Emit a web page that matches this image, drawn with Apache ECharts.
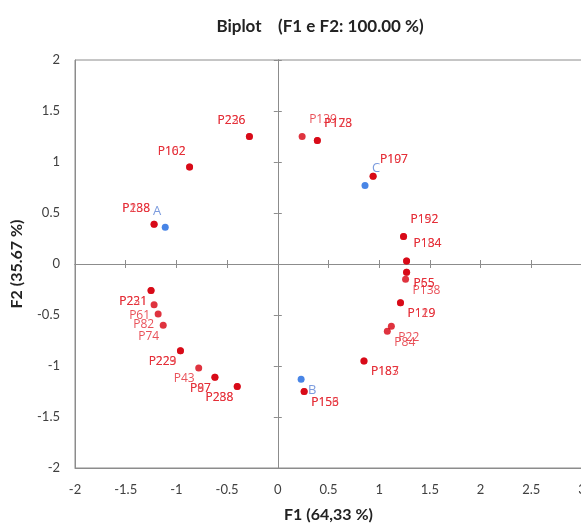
<!DOCTYPE html>
<html>
<head>
<meta charset="utf-8">
<script src="https://cdn.jsdelivr.net/npm/echarts@6/dist/echarts.min.js"></script>
<style>
  html, body { margin: 0; padding: 0; background: #fff; }
  #chart { width: 581px; height: 524px; }
</style>
</head>
<body>
<div id="chart"></div>
<script>
// observations (red)
var obsNames = ["P226", "P236", "P162", "P102", "P238", "P188",
  "P139", "P173", "P128", "P107", "P197", "P192", "P152", "P134", "P184",
  "P55", "P65", "P138", "P119", "P129", "P22", "P84", "P183", "P187",
  "P231", "P221", "P61", "P82", "P74", "P223", "P229", "P43", "P87", "P97",
  "P288", "P238b", "P156", "P153"];
var obsX = [-0.28, -0.28, -0.87, -0.87, -1.22, -1.22,
  0.24, 0.39, 0.39, 0.94, 0.94, 1.24, 1.24, 1.27, 1.27,
  1.27, 1.27, 1.26, 1.21, 1.21, 1.12, 1.08, 0.85, 0.85,
  -1.25, -1.25, -1.22, -1.18, -1.13, -0.96, -0.96, -0.78, -0.62, -0.62,
  -0.40, -0.40, 0.26, 0.26];
var obsY = [1.25, 1.25, 0.95, 0.95, 0.39, 0.39,
  1.25, 1.21, 1.21, 0.86, 0.86, 0.27, 0.27, 0.03, 0.03,
  -0.08, -0.08, -0.15, -0.38, -0.38, -0.61, -0.66, -0.95, -0.95,
  -0.26, -0.26, -0.40, -0.49, -0.60, -0.85, -0.85, -1.02, -1.11, -1.11,
  -1.20, -1.20, -1.25, -1.25];

// variables (blue)
var varNames = ["A", "B", "C"];
var varX = [-1.11, 0.23, 0.86];
var varY = [0.36, -1.13, 0.77];

var xTicks = { min: -2, max: 3, interval: 0.5 };
var yTicks = { min: -2, max: 2, interval: 0.5 };

// label placement around each point: tl, tr, bl, br
var side = {
  P226: "tl", P236: "tl", P162: "tl", P102: "tl", P238: "tl", P188: "tl",
  P139: "tr", P173: "tr", P128: "tr", P107: "tr", P197: "tr", P192: "tr",
  P152: "tr", P134: "tr", P184: "tr",
  A: "tl", C: "tr", B: "br"
};
var half = 3.5; // half symbol size, label position is from symbol's top-left
var sideStyle = {
  tl: { align: "right", position: [half - 4, half - 16] },
  tr: { align: "left", position: [half + 7, half - 17] },
  br: { align: "left", position: [half + 7, half + 11] },
  bl: { align: "right", position: [half - 4, half + 11] }
};
var leftSide = ["P231", "P221", "P61", "P82", "P74", "P223", "P229", "P43", "P87", "P97", "P288", "P238b"];

function labelFor(name) {
  var s = side[name] || (leftSide.indexOf(name) >= 0 ? "bl" : "br");
  return sideStyle[s];
}

function build(names, xs, ys) {
  return names.map(function (n, i) {
    return {
      name: n.replace("b", ""),
      value: [xs[i], ys[i]],
      label: labelFor(n)
    };
  });
}

var chart = echarts.init(document.getElementById("chart"));
var axisColor = "#8c8c8c";
var tickLabel = { color: "#404040", fontSize: 13, fontFamily: "Lato" };

function zeroAxis(inside) {
  return {
    type: "value",
    min: -2, max: 3, interval: 0.5,
    position: "bottom",
    axisLine: { onZero: true, onZeroAxisIndex: 0, lineStyle: { color: axisColor } },
    axisTick: { show: true, inside: inside, length: 4, lineStyle: { color: axisColor } },
    axisLabel: { show: false },
    splitLine: { show: false }
  };
}
function zeroYAxis(inside) {
  return {
    type: "value",
    min: -2, max: 2, interval: 0.5,
    position: "left",
    axisLine: { onZero: true, onZeroAxisIndex: 0, lineStyle: { color: axisColor } },
    axisTick: { show: true, inside: inside, length: 4, lineStyle: { color: axisColor } },
    axisLabel: { show: false },
    splitLine: { show: false }
  };
}

var option = {
  animation: false,
  title: {
    text: "Biplot    (F1 e F2: 100.00 %)",
    left: 315,
    textAlign: "center",
    top: 13,
    textStyle: { fontSize: 17, fontWeight: "bold", color: "#222", fontFamily: "Lato" }
  },
  grid: {
    left: 75, right: -1, top: 60, height: 408,
    outerBoundsMode: "none",
    containLabel: false,
    show: true, borderColor: axisColor, borderWidth: 1
  },
  xAxis: [
    {
      type: "value",
      min: xTicks.min, max: xTicks.max, interval: xTicks.interval,
      position: "bottom",
      name: "F1 (64,33 %)",
      nameLocation: "middle",
      nameGap: 39,
      nameTextStyle: { fontSize: 16, fontWeight: "bold", color: "#222", fontFamily: "Lato" },
      axisLine: { onZero: false, lineStyle: { color: axisColor } },
      axisTick: { show: false },
      axisLabel: Object.assign({ margin: 15 }, tickLabel),
      splitLine: { show: false }
    },
    zeroAxis(false),
    zeroAxis(true)
  ],
  yAxis: [
    {
      type: "value",
      min: yTicks.min, max: yTicks.max, interval: yTicks.interval,
      position: "left",
      name: "F2 (35.67 %)",
      nameLocation: "middle",
      nameGap: 50,
      nameTextStyle: { fontSize: 16, fontWeight: "bold", color: "#222", fontFamily: "Lato" },
      axisLine: { onZero: false, lineStyle: { color: axisColor } },
      axisTick: { show: false },
      axisLabel: Object.assign({ margin: 15 }, tickLabel),
      splitLine: { show: false }
    },
    zeroYAxis(false),
    zeroYAxis(true)
  ],
  series: [
    {
      type: "scatter",
      symbolSize: 7,
      itemStyle: { color: "#d7000f" },
      label: {
        show: true,
        verticalAlign: "middle",
        formatter: "{b}",
        color: "#e3262f",
        fontSize: 12,
        fontFamily: "Open Sans"
      },
      data: build(obsNames, obsX, obsY)
    },
    {
      type: "scatter",
      symbolSize: 7,
      itemStyle: { color: "#1a66e0" },
      label: {
        show: true,
        verticalAlign: "middle",
        formatter: "{b}",
        color: "#5a82d6",
        fontSize: 13,
        fontFamily: "Open Sans"
      },
      data: build(varNames, varX, varY)
    }
  ]
};

chart.setOption(option);
</script>
</body>
</html>
